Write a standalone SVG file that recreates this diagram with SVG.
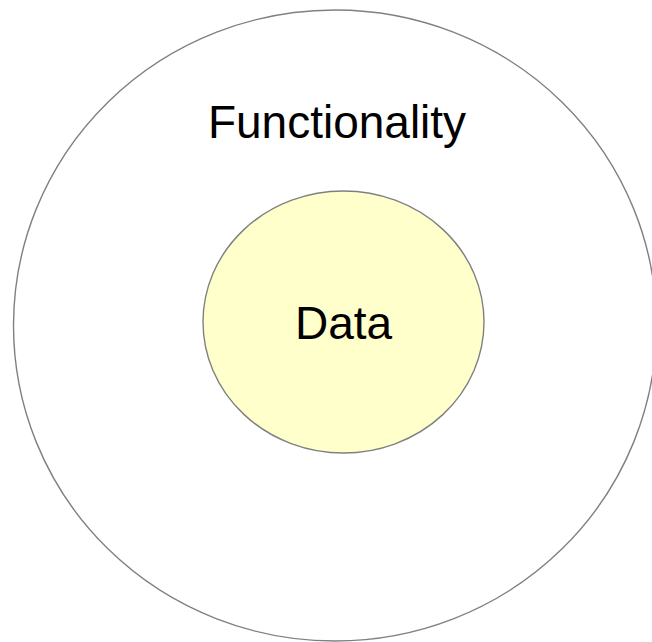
<svg xmlns="http://www.w3.org/2000/svg" width="652" height="642" viewBox="0 0 652 642">
<style>
.ring{stroke:#808080;stroke-width:1.4}
.lbl{font-family:"Liberation Sans",Arial,sans-serif;font-size:46px;fill:#000;text-anchor:middle}
</style>
<rect width="652" height="642" fill="#fff"/>
<g id="functionality">
<ellipse class="ring" cx="335" cy="325.5" rx="321.5" ry="315.5" fill="#fff"/>
<text class="lbl" x="337" y="138">Functionality</text>
</g>
<g id="data">
<ellipse class="ring" cx="343.5" cy="322" rx="140.5" ry="131" fill="#ffffcc"/>
<text class="lbl" x="343.5" y="339">Data</text>
</g>
<g id="connectors"/>
</svg>
